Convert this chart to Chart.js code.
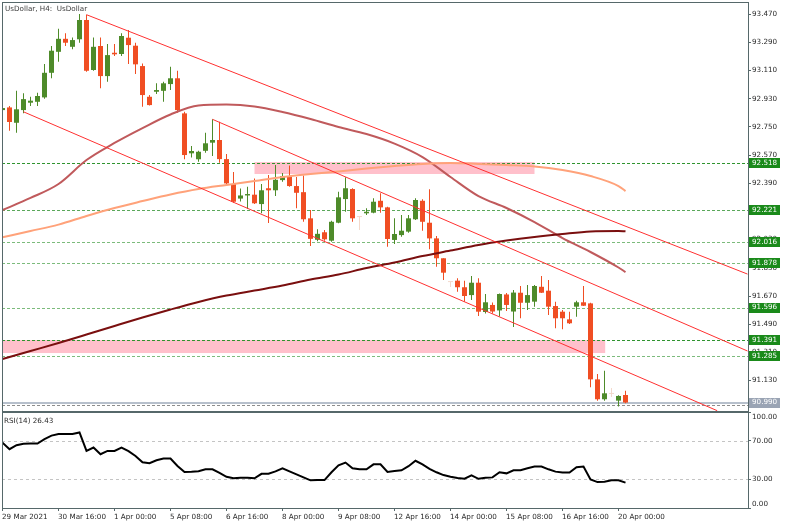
<!DOCTYPE html>
<html>
<head>
<meta charset="utf-8">
<script src="https://cdn.jsdelivr.net/npm/chart.js@4.4.1/dist/chart.umd.min.js"></script>
<style>
  html, body { margin: 0; padding: 0; background: #fff; }
  #wrap { position: relative; width: 789px; height: 526px; }
  #priceChart { position: absolute; left: 0; top: 0; }
  #rsiChart { position: absolute; left: 0; top: 412px; }
</style>
</head>
<body>
<div id="wrap">
  <canvas id="priceChart" width="789" height="412"></canvas>
  <canvas id="rsiChart" width="789" height="114"></canvas>
</div>
<script>
// H4 candles, 29 Mar 2021 .. 20 Apr 2021 04:00
const open = [
  92.857, 92.874, 92.776, 92.857, 92.904, 92.910, 92.938, 93.095, 93.229, 93.312,
  93.261, 93.309, 93.432, 93.113, 93.266, 93.074, 93.223, 93.215, 93.319, 93.268,
  93.138, 92.942, 92.974, 92.980, 93.023, 93.060, 92.836, 92.581, 92.543, 92.597,
  92.649, 92.666, 92.544, 92.385, 92.292, 92.312, 92.317, 92.257, 92.358, 92.345,
  92.410, 92.434, 92.372, 92.333, 92.166, 92.029, 92.077, 92.023, 92.138, 92.289,
  92.353, 92.174, 92.198, 92.202, 92.278, 92.236, 92.028, 92.059, 92.081, 92.160,
  92.278, 92.138, 92.038, 91.911, 91.759, 91.768, 91.726, 91.676, 91.755, 91.568,
  91.613, 91.578, 91.680, 91.571, 91.691, 91.627, 91.634, 91.729, 91.704, 91.606,
  91.570, 91.521, 91.602, 91.630, 91.623, 91.138, 91.011, 91.045, 91.002, 91.038
];
const high = [
  92.883, 92.883, 92.980, 92.964, 92.942, 92.968, 93.151, 93.266, 93.376, 93.347,
  93.321, 93.470, 93.466, 93.321, 93.321, 93.279, 93.279, 93.347, 93.368, 93.287,
  93.155, 92.953, 93.028, 93.038, 93.134, 93.108, 92.846, 92.628, 92.597, 92.712,
  92.798, 92.783, 92.576, 92.462, 92.356, 92.368, 92.421, 92.385, 92.442, 92.506,
  92.455, 92.503, 92.430, 92.439, 92.219, 92.096, 92.091, 92.151, 92.336, 92.428,
  92.358, 92.176, 92.230, 92.294, 92.326, 92.240, 92.166, 92.187, 92.187, 92.294,
  92.287, 92.351, 92.053, 91.911, 91.761, 91.783, 91.768, 91.798, 91.783, 91.683,
  91.629, 91.686, 91.689, 91.708, 91.734, 91.740, 91.740, 91.798, 91.772, 91.634,
  91.581, 91.570, 91.640, 91.734, 91.627, 91.172, 91.193, 91.083, 91.036, 91.066
];
const low = [
  92.845, 92.725, 92.712, 92.836, 92.883, 92.883, 92.929, 93.060, 93.166, 93.266,
  93.245, 93.287, 93.102, 93.108, 92.996, 93.038, 93.202, 93.202, 93.151, 93.087,
  92.878, 92.887, 92.959, 92.910, 92.985, 92.840, 92.543, 92.555, 92.527, 92.585,
  92.564, 92.521, 92.383, 92.266, 92.273, 92.225, 92.257, 92.198, 92.136, 92.308,
  92.400, 92.368, 92.230, 92.144, 91.989, 92.020, 92.023, 92.017, 92.134, 92.208,
  92.144, 92.091, 92.187, 92.198, 92.202, 91.985, 92.002, 92.049, 92.074, 92.155,
  92.087, 91.968, 91.857, 91.772, 91.728, 91.698, 91.634, 91.645, 91.542, 91.558,
  91.558, 91.539, 91.574, 91.472, 91.528, 91.581, 91.602, 91.689, 91.549, 91.464,
  91.458, 91.491, 91.538, 91.606, 91.087, 91.002, 91.002, 91.025, 90.964, 90.985
];
const close = [
  92.870, 92.781, 92.862, 92.927, 92.917, 92.947, 93.095, 93.236, 93.312, 93.287,
  93.304, 93.432, 93.108, 93.261, 93.074, 93.208, 93.213, 93.330, 93.272, 93.149,
  92.953, 92.889, 92.985, 93.028, 93.060, 92.857, 92.570, 92.596, 92.591, 92.645,
  92.666, 92.544, 92.389, 92.272, 92.312, 92.321, 92.262, 92.345, 92.345, 92.412,
  92.436, 92.372, 92.329, 92.160, 92.035, 92.067, 92.032, 92.144, 92.300, 92.358,
  92.166, 92.174, 92.208, 92.272, 92.236, 92.034, 92.066, 92.087, 92.166, 92.283,
  92.144, 92.038, 91.911, 91.819, 91.759, 91.726, 91.670, 91.755, 91.570, 91.630,
  91.571, 91.683, 91.613, 91.692, 91.627, 91.676, 91.734, 91.691, 91.602, 91.528,
  91.528, 91.496, 91.630, 91.608, 91.138, 91.011, 91.049, 91.045, 91.032, 90.990
];

// RSI(14), one value per bar
const rsi = [
  68.1, 61.3, 65.4, 67.0, 67.2, 67.2, 71.7, 75.4, 77.0, 77.0,
  77.0, 78.7, 59.5, 63.0, 56.0, 59.5, 59.5, 63.0, 59.2, 54.2,
  47.6, 46.6, 49.7, 51.5, 51.5, 43.8, 37.5, 37.7, 38.2, 40.3,
  40.3, 36.6, 32.5, 30.9, 31.6, 31.6, 30.9, 35.6, 35.8, 38.2,
  41.4, 38.2, 35.1, 31.9, 28.8, 29.1, 29.1, 37.2, 44.5, 47.3,
  41.4, 40.3, 40.3, 45.5, 45.5, 37.5, 38.5, 39.3, 43.5, 49.2,
  45.5, 40.8, 37.2, 34.3, 32.5, 31.2, 30.6, 34.0, 30.4, 31.4,
  31.9, 37.2, 36.1, 39.3, 39.3, 41.4, 43.1, 43.1, 40.3, 37.9,
  36.9, 36.9, 42.4, 43.1, 29.8, 27.0, 27.4, 28.8, 28.8, 26.43
];

// moving averages, read every 4 bars
const maBars = [0, 4, 8, 12, 16, 20, 24, 28, 32, 36, 40, 44, 48, 52, 56, 60, 64, 68, 72, 76, 80, 84, 88, 89];
const maSlow = [91.268, 91.319, 91.370, 91.424, 91.479, 91.533, 91.584, 91.632, 91.673, 91.705, 91.737, 91.775,
                91.807, 91.849, 91.884, 91.925, 91.960, 91.996, 92.024, 92.047, 92.066, 92.082, 92.085, 92.083];
const maMid = [92.045, 92.085, 92.126, 92.181, 92.232, 92.276, 92.318, 92.353, 92.379, 92.404, 92.430, 92.449,
               92.465, 92.484, 92.500, 92.513, 92.519, 92.513, 92.506, 92.497, 92.474, 92.436, 92.372, 92.340];
const maFast = [92.219, 92.296, 92.385, 92.538, 92.647, 92.742, 92.829, 92.886, 92.892, 92.880, 92.845, 92.800,
                92.749, 92.704, 92.643, 92.557, 92.430, 92.308, 92.232, 92.142, 92.040, 91.951, 91.852, 91.823];

// trend lines, [bar, price] end points
const trendA = [[12, 93.466], [106.43, 91.810]];
const trendB = [[3, 92.846], [102.1, 90.938]];
const trendC = [[30, 92.798], [106.43, 91.319]];

// pink zones
const zoneFrom = [36, -2];
const zoneTo = [76, 86.1];
const zoneLow = [92.449, 91.306];
const zoneHigh = [92.525, 91.389];

const levels = [92.518, 92.221, 92.016, 91.878, 91.596, 91.391, 91.285];
const lastPrice = 90.990;
const dashPrice = 90.972;

const priceTicks = [93.47, 93.29, 93.11, 92.93, 92.75, 92.57, 92.39, 92.21, 92.03, 91.85, 91.67, 91.49, 91.31, 91.13];
const rsiTicks = [0, 30, 70, 100];
const rsiLevels = [30, 70];
const tickBars = [0, 8, 16, 24, 32, 40, 48, 56, 64, 72, 80, 88];
const tickLabels = ['29 Mar 2021', '30 Mar 16:00', '1 Apr 00:00', '5 Apr 08:00', '6 Apr 16:00', '8 Apr 00:00',
                    '9 Apr 08:00', '12 Apr 16:00', '14 Apr 00:00', '15 Apr 08:00', '16 Apr 16:00', '20 Apr 00:00'];

// styles
const FONT = '7.2px "DejaVu Sans", Verdana, sans-serif';
const frameColor = '#56686a';
const textColor = '#2a2a2a';
const upColor = '#4e8b2a', downColor = '#f04e23', dojiColor = '#f3d9cc';
const levelStroke = ['#2f942f', '#5aa85a', '#7cbb7c', '#7cbb7c', '#7cbb7c', '#2f942f', '#7cbb7c'];
const X_MIN = -0.0714, X_MAX = 106.5;

const candleColor = open.map((o, i) => close[i] > o ? upColor : (close[i] < o ? downColor : dojiColor));

function lineSet(points, color, width) {
  return {
    type: 'line', data: points.map(p => ({ x: p[0], y: p[1] })),
    borderColor: color, borderWidth: width, pointRadius: 0, fill: false,
    cubicInterpolationMode: 'monotone', clip: 0
  };
}

const mainPanel = {
  id: 'mainPanel',
  beforeDatasetsDraw(chart) {
    const { ctx, chartArea: a, scales: { x, y } } = chart;
    ctx.save();
    ctx.beginPath();
    ctx.rect(a.left, a.top, a.right - a.left, a.bottom - a.top);
    ctx.clip();
    ctx.fillStyle = '#ffc0cb';
    zoneFrom.forEach((f, i) => {
      const x0 = x.getPixelForValue(f), x1 = x.getPixelForValue(zoneTo[i]);
      const y0 = y.getPixelForValue(zoneHigh[i]), y1 = y.getPixelForValue(zoneLow[i]);
      ctx.fillRect(x0, y0, x1 - x0, y1 - y0);
    });
    ctx.lineWidth = 1;
    ctx.setLineDash([3, 2]);
    levels.forEach((v, i) => {
      const py = Math.round(y.getPixelForValue(v)) + 0.5;
      ctx.strokeStyle = levelStroke[i];
      ctx.beginPath(); ctx.moveTo(a.left, py); ctx.lineTo(a.right, py); ctx.stroke();
    });
    let py = Math.round(y.getPixelForValue(dashPrice)) + 0.5;
    ctx.strokeStyle = '#8d8d8d';
    ctx.beginPath(); ctx.moveTo(a.left, py); ctx.lineTo(a.right, py); ctx.stroke();
    ctx.setLineDash([]);
    ctx.strokeStyle = '#b7c0cc';
    ctx.lineWidth = 2;
    py = Math.round(y.getPixelForValue(lastPrice));
    ctx.beginPath(); ctx.moveTo(a.left, py); ctx.lineTo(a.right, py); ctx.stroke();
    ctx.restore();
  },
  afterDraw(chart) {
    const { ctx, chartArea: a, scales: { y } } = chart;
    ctx.save();
    ctx.strokeStyle = frameColor;
    ctx.lineWidth = 1;
    ctx.strokeRect(a.left + 0.5, a.top + 0.5, a.right - a.left, a.bottom - a.top);
    ctx.font = FONT;
    ctx.textBaseline = 'middle';
    ctx.textAlign = 'left';
    ctx.fillStyle = textColor;
    priceTicks.forEach(v => ctx.fillText(v.toFixed(3), a.right + 4, y.getPixelForValue(v)));
    const box = (v, bg) => {
      const py = y.getPixelForValue(v);
      ctx.fillStyle = bg;
      ctx.fillRect(a.right + 1, Math.round(py) - 5, 31, 10);
      ctx.fillStyle = '#ffffff';
      ctx.fillText(v.toFixed(3), a.right + 4, py);
    };
    levels.forEach(v => box(v, '#1a8a1a'));
    box(lastPrice, '#9aa4b4');
    ctx.fillStyle = '#3c3c3c';
    ctx.fillText('UsDollar, H4:  UsDollar', 5, 9);
    ctx.restore();
  }
};

new Chart(document.getElementById('priceChart'), {
  type: 'bar',
  data: {
    datasets: [
      lineSet(trendA, '#ff3030', 1),
      lineSet(trendB, '#ff3030', 1),
      lineSet(trendC, '#ff3030', 1),
      lineSet(maBars.map((b, k) => [b, maSlow[k]]), '#7a0f0f', 2),
      lineSet(maBars.map((b, k) => [b, maMid[k]]), '#ffa27a', 2),
      lineSet(maBars.map((b, k) => [b, maFast[k]]), '#c05a5c', 2),
      {
        type: 'bar', data: open.map((o, i) => ({ x: i, y: [o, close[i]] })),
        backgroundColor: candleColor, maxBarThickness: 5, minBarLength: 1, grouped: false, clip: 0
      },
      {
        type: 'bar', data: low.map((l, i) => ({ x: i, y: [l, high[i]] })),
        backgroundColor: candleColor, maxBarThickness: 1, grouped: false, clip: 0
      }
    ]
  },
  options: {
    responsive: false,
    animation: false,
    events: [],
    layout: { padding: { left: 2, top: 2, right: 0, bottom: 1 } },
    plugins: { legend: { display: false }, tooltip: { enabled: false } },
    scales: {
      x: { type: 'linear', min: X_MIN, max: X_MAX, display: false, offset: false, grid: { offset: false } },
      y: {
        position: 'right', min: 90.936, max: 93.547,
        afterBuildTicks: s => { s.ticks = priceTicks.map(v => ({ value: v })); },
        afterFit: s => { s.width = 41; },
        ticks: { display: false },
        grid: { drawOnChartArea: false, tickLength: 3, color: frameColor },
        border: { color: frameColor }
      }
    }
  },
  plugins: [mainPanel]
});

const rsiPanel = {
  id: 'rsiPanel',
  beforeDatasetsDraw(chart) {
    const { ctx, chartArea: a, scales: { y } } = chart;
    ctx.save();
    ctx.strokeStyle = '#c4c4c4';
    ctx.lineWidth = 1;
    ctx.setLineDash([3, 3]);
    rsiLevels.forEach(v => {
      const py = Math.round(y.getPixelForValue(v)) + 0.5;
      ctx.beginPath(); ctx.moveTo(a.left, py); ctx.lineTo(a.right, py); ctx.stroke();
    });
    ctx.restore();
  },
  afterDraw(chart) {
    const { ctx, chartArea: a, scales: { x, y } } = chart;
    ctx.save();
    ctx.strokeStyle = frameColor;
    ctx.lineWidth = 1;
    ctx.strokeRect(a.left + 0.5, a.top + 0.5, a.right - a.left, a.bottom - a.top);
    ctx.font = FONT;
    ctx.textBaseline = 'middle';
    ctx.textAlign = 'left';
    ctx.fillStyle = textColor;
    rsiTicks.forEach(v => {
      const py = Math.min(Math.max(y.getPixelForValue(v), 5.5), a.bottom - 4);
      ctx.fillText(v.toFixed(2), a.right + 4, py);
    });
    tickBars.forEach((b, i) => ctx.fillText(tickLabels[i], x.getPixelForValue(b) - 0.5, a.bottom + 9));
    ctx.fillText('RSI(14) ' + rsi[rsi.length - 1].toFixed(2), 4, 9);
    ctx.restore();
  }
};

new Chart(document.getElementById('rsiChart'), {
  type: 'line',
  data: {
    datasets: [{
      data: rsi.map((v, i) => ({ x: i, y: v })),
      borderColor: '#000000', borderWidth: 2, pointRadius: 0, fill: false, tension: 0
    }]
  },
  options: {
    responsive: false,
    animation: false,
    events: [],
    layout: { padding: { left: 2, top: 0, right: 0, bottom: 0 } },
    plugins: { legend: { display: false }, tooltip: { enabled: false } },
    scales: {
      x: {
        type: 'linear', min: X_MIN, max: X_MAX, offset: false,
        afterBuildTicks: s => { s.ticks = tickBars.map(v => ({ value: v })); },
        afterFit: s => { s.height = 18; },
        ticks: { display: false },
        grid: { drawOnChartArea: false, tickLength: 3, color: frameColor },
        border: { color: frameColor }
      },
      y: {
        position: 'right', min: 0, max: 100,
        afterBuildTicks: s => { s.ticks = rsiTicks.map(v => ({ value: v })); },
        afterFit: s => { s.width = 41; },
        ticks: { display: false },
        grid: { drawOnChartArea: false, tickLength: 3, color: frameColor },
        border: { color: frameColor }
      }
    }
  },
  plugins: [rsiPanel]
});
</script>
</body>
</html>
